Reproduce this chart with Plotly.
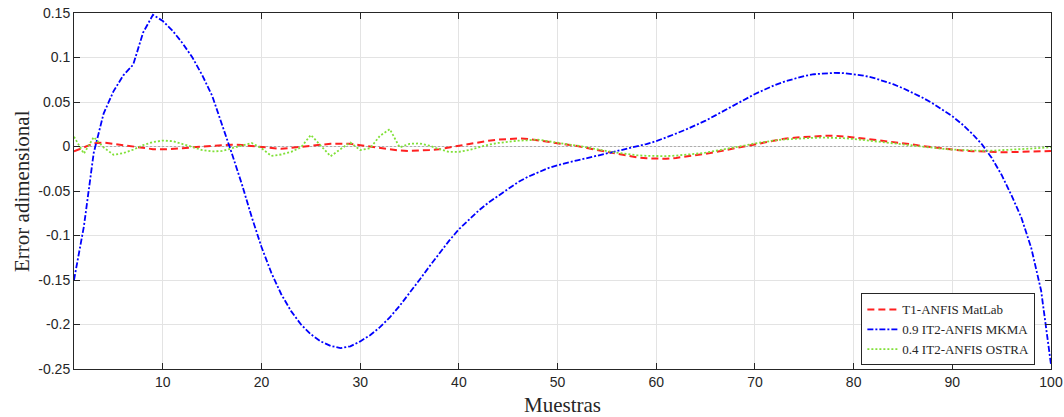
import plotly.graph_objects as go

muestras = list(range(1, 101))

t1_matlab = [
    -0.0055, -0.001, 0.0035, 0.0045, 0.003, 0.0015, -0.0005, -0.002, -0.003, -0.0032,
    -0.003, -0.002, -0.001, 0.0, 0.001, 0.0015, 0.002, 0.0017, 0.0005, -0.0008,
    -0.002, -0.0026, -0.0015, -0.0005, 0.001, 0.0022, 0.003, 0.0032, 0.003, 0.0015,
    0.0, -0.0015, -0.003, -0.0045, -0.005, -0.0048, -0.004, -0.003, -0.001, 0.0005,
    0.0025, 0.0045, 0.0065, 0.0078, 0.0087, 0.009, 0.0085, 0.007, 0.0058, 0.004,
    0.0025, 0.0005, -0.0018, -0.004, -0.0064, -0.0085, -0.0105, -0.0122, -0.0133, -0.0139,
    -0.0138, -0.0128, -0.0115, -0.0098, -0.0082, -0.0062, -0.004, -0.0018, 0.0005, 0.003,
    0.0052, 0.0072, 0.0088, 0.0099, 0.0108, 0.0115, 0.012, 0.0122, 0.0115, 0.0102,
    0.009, 0.0077, 0.0064, 0.005, 0.0036, 0.0022, 0.0003, -0.001, -0.0024, -0.0035,
    -0.0045, -0.0052, -0.0058, -0.0062, -0.0064, -0.0063, -0.0061, -0.0058, -0.0054, -0.005,
]

it2_mkma = [
    -0.15, -0.09, -0.007, 0.037, 0.062, 0.08, 0.092, 0.128, 0.148, 0.141,
    0.13, 0.116, 0.1, 0.08, 0.057, 0.025, -0.008, -0.042, -0.079, -0.113,
    -0.142, -0.166, -0.185, -0.2, -0.211, -0.219, -0.224, -0.2265, -0.2245, -0.219,
    -0.212, -0.203, -0.192, -0.179, -0.165, -0.15, -0.135, -0.12, -0.106, -0.093,
    -0.082, -0.072, -0.063, -0.055, -0.047, -0.04, -0.034, -0.029, -0.0245, -0.021,
    -0.018, -0.0155, -0.013, -0.0105, -0.008, -0.0055, -0.003, -0.0003, 0.0027, 0.006,
    0.010, 0.0145, 0.019, 0.024, 0.029, 0.035, 0.041, 0.047, 0.053, 0.059,
    0.064, 0.069, 0.073, 0.0765, 0.0792, 0.0812, 0.0823, 0.0827, 0.0825, 0.0815,
    0.0797, 0.0772, 0.074, 0.07, 0.0655, 0.0605, 0.0548, 0.0485, 0.0415, 0.034,
    0.025, 0.0145, 0.0025, -0.013, -0.032, -0.055, -0.08, -0.114, -0.162, -0.245,
]

it2_ostra = [
    0.011, -0.008, 0.0105, -0.001, -0.0093, -0.0075, -0.0035, 0.0015, 0.005, 0.0067,
    0.006, 0.003, -0.0005, -0.004, -0.0056, -0.005, -0.002, 0.0015, 0.004, -0.002,
    -0.0105, -0.009, -0.006, -0.001, 0.013, 0.001, -0.011, -0.003, 0.0045, -0.004,
    -0.002, 0.012, 0.0195, -0.001, 0.003, 0.0035, 0.001, -0.003, -0.006, -0.006,
    -0.004, -0.001, 0.002, 0.004, 0.0055, 0.0065, 0.007, 0.0078, 0.006, 0.004,
    0.0025, 0.001, -0.0013, -0.0033, -0.0052, -0.007, -0.0088, -0.0098, -0.0105, -0.0109,
    -0.0108, -0.0102, -0.0094, -0.0082, -0.0069, -0.005, -0.003, -0.001, 0.0012, 0.0035,
    0.0053, 0.0068, 0.008, 0.0088, 0.0094, 0.0098, 0.01, 0.0099, 0.0093, 0.0085,
    0.0074, 0.0062, 0.005, 0.0037, 0.0024, 0.0011, -0.0003, -0.0015, -0.0026, -0.0034,
    -0.004, -0.0045, -0.0048, -0.0047, -0.0043, -0.0037, -0.003, -0.0023, -0.0015, -0.0008,
]

referencia = [0.0] * len(muestras)

names = ["T1-ANFIS MatLab", "0.9 IT2-ANFIS MKMA", "0.4 IT2-ANFIS OSTRA"]
x_title = "Muestras"
y_title = "Error adimensional"

x_ticks = [10, 20, 30, 40, 50, 60, 70, 80, 90, 100]
y_ticks = [-0.25, -0.2, -0.15, -0.1, -0.05, 0, 0.05, 0.1, 0.15]
y_ticktext = ["-0.25", "-0.2", "-0.15", "-0.1", "-0.05", "0", "0.05", "0.1", "0.15"]

fig = go.Figure()
fig.add_trace(go.Scatter(x=muestras, y=referencia, mode="lines", showlegend=False,
                         hoverinfo="skip",
                         line=dict(color="#a0a0a0", width=0.8, dash="2px,2px")))
fig.add_trace(go.Scatter(x=muestras, y=t1_matlab, mode="lines", name=names[0],
                         line=dict(color="#ff2020", width=2, dash="7px,4px")))
fig.add_trace(go.Scatter(x=muestras, y=it2_mkma, mode="lines", name=names[1],
                         line=dict(color="#0000ff", width=1.8, dash="6px,2px,2px,2px")))
fig.add_trace(go.Scatter(x=muestras, y=it2_ostra, mode="lines", name=names[2],
                         line=dict(color="#80e038", width=1.8, dash="2px,2px")))

axis_common = dict(
    showline=True, linecolor="#262626", linewidth=1, mirror="ticks",
    ticks="inside", ticklen=6, tickcolor="#262626", tickwidth=1,
    showgrid=True, gridcolor="#e3e3e3", gridwidth=1, zeroline=False,
    automargin=False,
    tickfont=dict(family="Liberation Sans, Arial, sans-serif", size=14, color="#262626"),
)

title_font = dict(family="Liberation Serif, Times New Roman, serif", size=21, color="#262626")

fig.update_xaxes(range=[1, 100], tickvals=x_ticks, **axis_common)
fig.update_yaxes(range=[-0.25, 0.15], tickvals=y_ticks, ticktext=y_ticktext, **axis_common)

fig.add_annotation(text=x_title, xref="paper", yref="paper", x=0.5, y=0,
                   xanchor="center", yanchor="middle", yshift=-36,
                   showarrow=False, font=title_font)
fig.add_annotation(text=y_title, xref="paper", yref="paper", x=0, y=0.5,
                   xanchor="center", yanchor="middle", xshift=-52, textangle=-90,
                   showarrow=False, font=title_font)

fig.update_layout(
    width=1064, height=417,
    margin=dict(l=74, r=13, t=13, b=48),
    paper_bgcolor="white", plot_bgcolor="white",
    legend=dict(x=0.984, y=0.01, xanchor="right", yanchor="bottom",
                bgcolor="white", bordercolor="#262626", borderwidth=1,
                font=dict(family="Liberation Serif, Times New Roman, serif", size=13, color="#262626"),
                tracegroupgap=0, itemwidth=30),
    showlegend=True,
)

fig.write_html("out.html")
